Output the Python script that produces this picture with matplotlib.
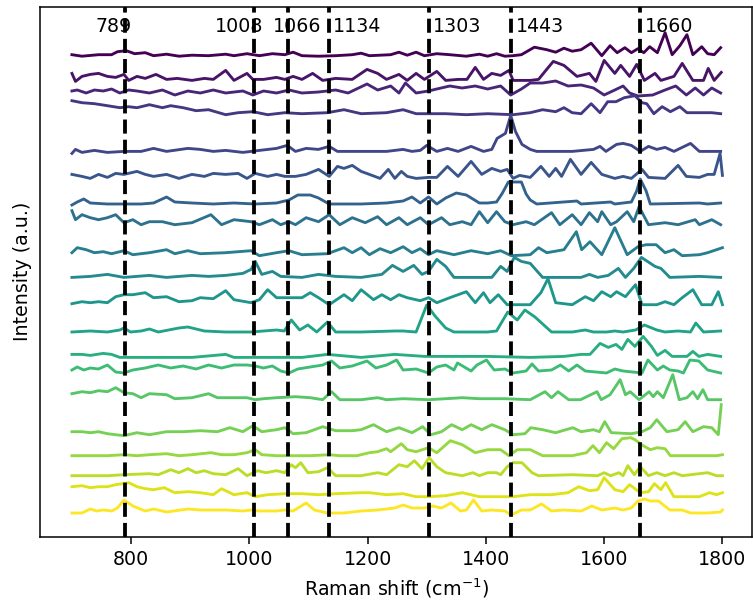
import numpy as np
import matplotlib
matplotlib.use("Agg")
import matplotlib.pyplot as plt

# marked Raman bands (cm^-1) and where their labels sit relative to the line
peak_positions = [789, 1008, 1066, 1134, 1303, 1443, 1660]
label_shift = [-18, -25, 15, 49, 48, 48, 50]

# vertical offset of each spectrum (top to bottom)
offsets = [481, 456.3, 443.7, 423, 385.3, 359.3, 332.7, 312, 282, 259.3,
           232, 204.7, 180.3, 163.7, 137, 102, 81, 61, 42, 23.7]

# (Raman shift, intensity) points, one list per spectrum
spec_01 = [(700, 1), (717, -0.5), (745, 1), (767, 1), (777, 4), (792, 5), (806, 2), (824, 3),
           (838, 0), (860, 1.5), (881, -0.5), (903, 0.5), (931, 0), (960, 1.5), (974, 0),
           (996, 2), (1017, 0), (1039, 2), (1060, 1), (1074, 3.5), (1089, 0), (1117, -0.5),
           (1146, 0), (1174, 1), (1189, 2.5), (1203, 0), (1239, 1), (1253, 3.5), (1267, 0.5),
           (1282, 3.5), (1296, 0), (1317, 2), (1339, 1), (1367, -0.5), (1389, 1.5), (1403, -0.5),
           (1418, 2), (1432, -0.5), (1446, 0), (1460, 1), (1482, 8.5), (1503, 6), (1518, 3.5),
           (1532, 7.5), (1546, 4.5), (1561, 6), (1578, 12.5), (1596, 0), (1610, 10), (1622, 3),
           (1635, 8), (1646, 3), (1657, 7), (1667, 3), (1677, 9), (1690, 3), (1703, 23),
           (1715, 1), (1728, 10), (1740, 21), (1750, 1), (1765, 9), (1775, 2), (1786, 1), (1797, 8)]
spec_02 = [(700, 7), (706, -1), (717, 4), (731, 6), (745, 7), (760, 4), (774, 3), (788, 6),
           (796, 0), (810, 4), (824, 2), (842, 6), (860, 1), (878, 2), (903, 0), (924, 2),
           (939, 1), (960, 10), (974, 0), (996, 7), (1006, 1), (1024, 1), (1046, 3), (1060, 1),
           (1074, 4), (1089, 1), (1107, 7), (1124, 0), (1146, 2), (1174, 1), (1199, 11),
           (1217, 7), (1232, 1), (1253, 6), (1267, 0), (1282, 7), (1296, 1), (1317, 9), (1332, 0),
           (1353, 1), (1368, 1), (1382, 13), (1396, 1), (1410, 7), (1425, 5), (1439, 10),
           (1446, 0), (1475, 0), (1489, 1), (1500, 9), (1514, 19), (1532, 15), (1554, 4),
           (1575, 7), (1586, -1), (1600, 20), (1618, 7), (1628, 15), (1643, 4), (1655, 16),
           (1668, 0), (1686, 7), (1696, 0), (1718, 4), (1732, 17), (1750, 0), (1768, 0),
           (1776, 12), (1786, 0), (1798, 8)]
spec_03 = [(700, 2), (709, 3), (724, 0), (738, 3), (753, 2), (767, 4), (781, 0), (796, 3),
           (810, 2), (831, 0), (853, 3), (874, -2), (896, 2), (917, 0), (939, 3), (960, 0),
           (989, 2), (1006, -2), (1024, 2), (1046, 0), (1067, 3), (1089, 0), (1117, 1),
           (1146, 3), (1167, 0), (1199, 9), (1217, 3), (1239, 7), (1253, 0), (1264, 10),
           (1282, 0), (1303, 2), (1317, 4), (1339, 7), (1360, 5), (1382, 7), (1403, 4),
           (1425, 7), (1442, -2), (1460, 4), (1475, 10), (1496, 10), (1518, 12), (1539, 7),
           (1561, 8), (1582, 5), (1600, -2), (1618, 3), (1632, 7), (1643, 0), (1657, -3),
           (1682, -2), (1703, 3), (1721, 7), (1739, -2), (1754, 5), (1768, -2), (1782, 5), (1797, 0)]
spec_04 = [(700, 13), (717, 11), (738, 10), (760, 8), (781, 6), (796, 7), (810, 6), (831, 9),
           (853, 6), (867, 8), (888, 6), (910, 3), (931, 4), (960, -1), (981, 1), (1006, 2),
           (1031, -1), (1060, 1), (1089, 0), (1132, 1), (1160, 4), (1189, 0), (1232, 1),
           (1260, 4), (1282, 0), (1332, 0), (1367, -1), (1403, 0), (1446, -1), (1475, 1),
           (1496, 4), (1518, 2), (1532, 6), (1546, 1), (1561, 0), (1578, 10), (1593, 1),
           (1606, 12), (1620, 12), (1634, 16), (1652, 18), (1664, 11), (1672, 10), (1684, 0),
           (1698, 7), (1712, 2), (1728, 7), (1740, 1), (1761, 1), (1782, 1), (1797, 0)]
spec_05 = [(700, -2), (706, 2), (717, -1), (738, 1), (760, -1), (788, 0), (817, 0), (838, 3),
           (860, 0), (896, 3), (917, 2), (939, 0), (960, 1), (989, -1), (1017, 1), (1046, 3),
           (1064, 6), (1078, 0), (1096, 3), (1117, 2), (1135, 5), (1149, 0), (1189, 0),
           (1232, 0), (1260, 2), (1275, 0), (1289, 1), (1300, 6), (1317, 0), (1335, 3),
           (1353, 0), (1375, 5), (1396, 0), (1410, 2), (1419, 13), (1433, 18), (1442, 36),
           (1450, 20), (1461, 7), (1475, 2), (1486, 0), (1546, 0), (1582, 2), (1593, 5),
           (1603, 0), (1621, 7), (1632, 8), (1646, 6), (1661, 0), (1675, 5), (1689, 2),
           (1703, 4), (1718, 0), (1746, 8), (1761, 0), (1797, 0)]
spec_06 = [(700, 3), (717, 1), (731, -1), (745, 3), (760, 0), (774, 4), (788, 3), (810, 6),
           (824, 3), (838, 1), (860, 3), (881, -1), (903, 3), (924, 1), (939, 4), (960, 3),
           (981, 4), (996, -1), (1010, 4), (1031, 1), (1046, 3), (1060, 1), (1078, 1), (1096, 3),
           (1117, 8), (1135, 1), (1149, 11), (1160, 9), (1174, 12), (1189, 6), (1203, 3),
           (1221, -1), (1235, 8), (1246, -1), (1257, 6), (1267, 1), (1282, -1), (1303, 0),
           (1317, 0), (1335, 11), (1353, 1), (1375, 16), (1393, 3), (1410, 9), (1425, 6),
           (1436, 8), (1446, -1), (1457, 2), (1475, 0), (1493, 11), (1507, 1), (1518, 9),
           (1528, 1), (1543, 18), (1561, 3), (1578, 15), (1596, 3), (1618, -1), (1632, 1),
           (1646, -1), (1664, 8), (1675, 0), (1703, -1), (1725, 12), (1739, 1), (1761, 0),
           (1775, 3), (1786, 3), (1796, 24), (1800, 2)]
spec_07 = [(700, -1), (709, 2), (720, 5), (731, 1), (760, 0), (817, 0), (838, 1), (860, 7),
           (874, 2), (903, 1), (939, 0), (974, 1), (1010, 0), (1046, 1), (1067, 4), (1082, 9),
           (1103, 9), (1117, 6), (1135, 0), (1189, 0), (1232, 1), (1260, 3), (1275, 7),
           (1289, 1), (1303, 7), (1317, 0), (1332, 6), (1350, 11), (1367, 9), (1389, 1),
           (1403, 1), (1418, 2), (1428, 11), (1438, 22), (1460, 22), (1468, 10), (1475, 4),
           (1486, 0), (1554, 3), (1561, 0), (1611, 2), (1618, 0), (1646, 2), (1655, 13),
           (1661, 25), (1671, 13), (1678, 0), (1761, 1), (1775, 0), (1797, 1)]
spec_08 = [(700, 14), (706, 5), (717, 10), (731, 7), (745, 5), (760, 7), (774, 10), (788, 2),
           (803, 5), (817, 0), (831, 3), (853, 3), (874, 0), (903, 2), (935, 10), (953, 0),
           (974, 5), (1003, 3), (1017, 0), (1039, 5), (1053, 0), (1067, 3), (1078, 0), (1096, 7),
           (1117, 3), (1135, 10), (1153, 0), (1174, 7), (1196, 2), (1217, 8), (1232, 0),
           (1253, 7), (1267, 0), (1289, 7), (1303, 0), (1325, 7), (1339, 0), (1360, 3),
           (1375, 0), (1389, 13), (1403, 2), (1418, 13), (1432, 3), (1446, 0), (1468, 3),
           (1482, 0), (1511, 12), (1525, 0), (1546, 10), (1561, 0), (1575, 12), (1589, 3),
           (1596, 13), (1611, 0), (1621, 3), (1639, 13), (1650, 3), (1659, 18), (1675, 0),
           (1703, 2), (1725, 0), (1754, 5), (1761, 0), (1782, 5), (1797, 0)]
spec_09 = [(700, 2), (709, 7), (724, 5), (738, 2), (753, 3), (767, 1), (788, 4), (803, 0),
           (831, 2), (860, 5), (874, 1), (896, 4), (917, 1), (960, 2), (1003, 4), (1017, -1),
           (1046, 2), (1067, 4), (1089, 0), (1132, 1), (1160, 7), (1174, 2), (1189, 7),
           (1203, 0), (1221, 6), (1239, 2), (1260, 8), (1275, 2), (1289, 6), (1303, 0),
           (1317, 4), (1346, 0), (1375, 4), (1403, 1), (1425, 4), (1443, -1), (1475, 0),
           (1489, 7), (1503, 2), (1532, 5), (1553, 23), (1562, 5), (1576, 13), (1596, 0),
           (1618, 27), (1639, 0), (1657, 8), (1671, 10), (1688, 10), (1703, 2), (1718, 5),
           (1732, -1), (1761, 0), (1775, 2), (1790, 5), (1800, 7)]
spec_10 = [(700, 0), (731, 1), (760, 3), (788, 0), (831, 2), (860, 0), (903, 2), (931, 1),
           (960, 2), (989, 4), (1003, 8), (1010, 16), (1021, 3), (1039, 6), (1053, 1), (1089, 0),
           (1117, 3), (1146, 1), (1189, 0), (1224, 3), (1242, 12), (1260, 6), (1278, 12),
           (1292, 3), (1303, 6), (1317, 18), (1332, 11), (1346, 0), (1410, 0), (1425, 11),
           (1436, 6), (1448, 20), (1460, 16), (1475, 14), (1496, 0), (1561, 0), (1575, 3),
           (1589, 0), (1607, 2), (1624, 9), (1636, 0), (1650, 9), (1663, 20), (1686, 11),
           (1696, 9), (1711, 0), (1761, 1), (1797, 0)]
spec_11 = [(700, 1), (717, 3), (731, 2), (745, 3), (760, 2), (774, 8), (788, 10), (803, 10),
           (824, 12), (838, 7), (860, 8), (881, 3), (903, 4), (917, 7), (939, 6), (960, 14),
           (974, 5), (1003, 2), (1017, 5), (1031, 15), (1046, 7), (1067, 7), (1089, 7),
           (1103, 12), (1117, 7), (1135, 0), (1160, 10), (1174, 4), (1189, 15), (1210, 5),
           (1224, 10), (1239, 5), (1253, 10), (1267, 7), (1289, 4), (1303, 7), (1317, 2),
           (1339, 7), (1367, 13), (1382, 2), (1396, 12), (1407, 2), (1421, 10), (1436, 0),
           (1475, 0), (1493, 12), (1505, 26), (1518, 2), (1546, 0), (1568, 8), (1582, 4),
           (1596, 13), (1611, 8), (1621, 13), (1636, 8), (1653, 20), (1664, 0), (1689, 0),
           (1703, 3), (1718, 0), (1732, 7), (1750, 15), (1765, 0), (1782, 0), (1793, 13), (1800, 0)]
spec_12 = [(700, 0), (731, 1), (760, 0), (781, 2), (788, 4), (799, 0), (817, 1), (831, 3),
           (846, 0), (881, 4), (896, 5), (924, 1), (960, 0), (1003, 0), (1024, 1), (1046, 2),
           (1059, 1), (1071, 12), (1085, 2), (1099, 7), (1114, 0), (1132, 10), (1146, 0),
           (1189, 0), (1246, 1), (1260, 1), (1282, 0), (1300, 27), (1314, 16), (1332, 4),
           (1346, 0), (1403, 0), (1418, 1), (1437, 20), (1453, 12), (1466, 22), (1483, 15),
           (1511, 0), (1546, 0), (1568, 2), (1582, 0), (1604, 0), (1618, 1), (1632, 0),
           (1653, 2), (1668, 7), (1689, 2), (1703, 0), (1725, 1), (1746, 0), (1755, 9),
           (1768, 0), (1797, 1)]
spec_13 = [(700, 2), (717, 2), (731, 1), (753, 3), (767, 2), (781, -1), (831, -1), (903, -1),
           (960, 2), (974, -1), (1046, -1), (1089, -1), (1132, 2), (1189, -1), (1246, 2),
           (1296, 0), (1403, 0), (1475, -1), (1532, 0), (1561, 2), (1576, 2), (1593, 13),
           (1607, 9), (1620, 12), (1630, 7), (1640, 17), (1652, 10), (1666, 20), (1680, 10),
           (1690, 1), (1703, 6), (1715, 0), (1740, 0), (1750, 5), (1760, 0), (1775, 2), (1797, 0)]
spec_14 = [(700, 3), (709, 6), (720, 3), (731, 5), (745, 4), (760, 8), (774, 1), (788, 0),
           (803, 3), (824, 5), (846, 8), (867, 5), (888, 7), (910, 4), (931, 8), (953, 5),
           (974, 8), (996, 8), (1010, 7), (1024, 5), (1039, 7), (1053, 2), (1067, 0), (1082, 4),
           (1103, 6), (1124, 8), (1139, 12), (1153, 5), (1174, 7), (1199, 12), (1214, 5),
           (1232, 8), (1249, 13), (1260, 3), (1282, 4), (1303, 0), (1317, 6), (1332, 8),
           (1346, 3), (1352, 10), (1375, 2), (1385, 8), (1401, 13), (1414, 3), (1432, 4),
           (1446, 0), (1468, 2), (1478, 9), (1489, 2), (1511, 3), (1526, 8), (1540, 2),
           (1554, 8), (1568, 2), (1604, 0), (1618, 4), (1632, 2), (1664, 0), (1674, 13),
           (1690, 3), (1700, 7), (1711, 3), (1725, 2), (1734, 0), (1745, 13), (1760, 12),
           (1775, 3), (1797, 0)]
spec_15 = [(700, 6), (717, 8), (731, 7), (745, 9), (760, 8), (774, 12), (788, 7), (803, 6),
           (817, 2), (831, 6), (860, 5), (874, 1), (903, 2), (931, 6), (946, 2), (974, 2),
           (996, 2), (1010, 0), (1024, 1), (1046, 2), (1078, 3), (1103, 2), (1124, 0), (1139, 8),
           (1153, 0), (1189, 0), (1217, 2), (1232, 0), (1260, 1), (1303, 0), (1332, 1),
           (1360, 2), (1389, 1), (1432, 1), (1475, 0), (1500, 8), (1511, 2), (1522, 8),
           (1540, 0), (1560, 0), (1588, 8), (1595, 0), (1610, 5), (1627, 20), (1636, 5),
           (1644, 8), (1659, 0), (1676, 8), (1683, 3), (1690, 8), (1700, 2), (1716, 25),
           (1727, 0), (1740, 2), (1750, 8), (1758, 1), (1767, 10), (1775, 0), (1797, 0)]
spec_16 = [(700, 3), (717, 3), (731, 2), (745, 3), (760, 1), (788, -1), (810, 2), (831, 0),
           (860, 3), (888, 3), (917, 4), (946, 3), (967, 7), (989, 3), (1006, 9), (1021, 3),
           (1046, 5), (1060, 7), (1074, 1), (1096, 2), (1124, 8), (1146, 4), (1174, 4),
           (1189, 5), (1210, 10), (1232, 3), (1253, 7), (1275, 2), (1293, 8), (1307, 0),
           (1325, 3), (1342, 10), (1360, 5), (1375, 10), (1393, 5), (1410, 10), (1432, 5),
           (1446, 0), (1466, 1), (1476, 7), (1496, 5), (1518, 2), (1547, 7), (1561, 3),
           (1582, 5), (1592, 3), (1601, 13), (1612, 2), (1646, 1), (1664, 3), (1678, 7),
           (1689, 15), (1706, 3), (1725, 5), (1737, 13), (1750, 3), (1768, 8), (1782, 7),
           (1793, 0), (1798, 30)]
spec_17 = [(700, 0), (760, 0), (788, 1), (810, 0), (831, 1), (860, 2), (881, 0), (903, 1),
           (935, 3), (953, 1), (974, 1), (996, 3), (1010, 6), (1021, 1), (1046, 0), (1074, 0),
           (1103, 0), (1135, 1), (1153, 0), (1182, 0), (1203, 3), (1217, 4), (1232, 7),
           (1239, 4), (1257, 12), (1267, 6), (1282, 4), (1303, 8), (1317, 3), (1340, 15),
           (1360, 11), (1382, 3), (1403, 6), (1425, 6), (1439, 0), (1453, 6), (1475, 6),
           (1496, 0), (1546, 0), (1570, 3), (1581, 10), (1592, 3), (1604, 13), (1616, 7),
           (1630, 17), (1645, 18), (1652, 16), (1666, 10), (1678, 6), (1690, 8), (1703, 7),
           (1712, 0), (1725, 0), (1761, 0), (1790, 0), (1800, 1)]
spec_18 = [(700, 0), (760, 0), (788, 1), (831, 2), (846, 1), (867, 6), (881, 3), (896, 7),
           (910, 3), (924, 5), (939, 2), (960, 1), (981, 7), (996, 0), (1014, 5), (1028, 3),
           (1046, 5), (1060, 3), (1071, 11), (1078, 8), (1087, 13), (1099, 3), (1117, 4),
           (1132, 8), (1146, 0), (1189, 0), (1217, 3), (1232, 1), (1253, 11), (1267, 9),
           (1279, 15), (1292, 7), (1304, 18), (1317, 9), (1332, 3), (1360, 0), (1378, 3),
           (1389, 0), (1403, 3), (1418, 3), (1425, 1), (1436, 9), (1446, 13), (1461, 13),
           (1478, 3), (1489, 0), (1546, 1), (1589, 0), (1600, 3), (1611, 0), (1625, 3),
           (1632, 0), (1640, 10), (1651, 1), (1661, 9), (1675, 0), (1689, 3), (1703, 0),
           (1718, 3), (1732, 0), (1775, 3), (1790, 0), (1800, 0)]
spec_19 = [(700, 8), (717, 9), (731, 7), (745, 8), (760, 8), (774, 10), (796, 12), (810, 8),
           (824, 6), (838, 5), (856, 7), (874, 2), (896, 3), (917, 2), (939, 0), (953, 6),
           (974, 0), (996, 2), (1010, -2), (1031, 0), (1060, 1), (1089, 1), (1117, 0), (1146, 1),
           (1189, 2), (1203, 2), (1232, 0), (1260, 1), (1282, -2), (1303, -2), (1332, -1),
           (1360, 2), (1389, -2), (1446, -2), (1475, 0), (1511, 0), (1539, 2), (1557, 8),
           (1575, 4), (1589, 5), (1600, 17), (1618, 5), (1632, 3), (1643, 10), (1661, 2),
           (1675, 3), (1685, 11), (1696, 5), (1704, 12), (1718, -2), (1761, -2), (1778, 2),
           (1790, 0), (1800, 2)]
spec_20 = [(700, 0), (717, 0), (731, 4), (742, 2), (753, 3), (767, 2), (777, 5), (788, 13),
           (803, 7), (824, 2), (838, 4), (860, 1), (896, 4), (917, 3), (960, 3), (989, 2),
           (1003, 3), (1017, 2), (1046, 2), (1060, 3), (1074, 2), (1096, 10), (1110, 3),
           (1132, 0), (1160, 0), (1189, 2), (1217, 3), (1246, 5), (1260, 8), (1275, 5),
           (1296, 5), (1310, 7), (1325, 5), (1341, 10), (1357, 2), (1367, 3), (1379, 13),
           (1393, 2), (1410, 3), (1432, 2), (1443, -2), (1460, 3), (1475, 3), (1494, 9),
           (1511, 2), (1532, 3), (1561, 2), (1579, 7), (1596, 3), (1618, 5), (1632, 3),
           (1646, 5), (1657, 12), (1668, 14), (1678, 12), (1692, 12), (1711, 3), (1732, 3),
           (1746, 0), (1775, 0), (1797, 1), (1800, 3)]

spectra = [spec_01, spec_02, spec_03, spec_04, spec_05, spec_06, spec_07, spec_08, spec_09,
           spec_10, spec_11, spec_12, spec_13, spec_14, spec_15, spec_16, spec_17, spec_18,
           spec_19, spec_20]

DPI = 137
fig = plt.figure(figsize=(753 / DPI, 606 / DPI), dpi=DPI)
ax = fig.add_axes([40 / 753, 69.3 / 606, 712 / 753, 530 / 606])

colors = plt.cm.viridis(np.linspace(0, 1, len(spectra)))
for spec, off, col in zip(spectra, offsets, colors):
    pts = np.array(spec, dtype=float)
    ax.plot(pts[:, 0], pts[:, 1] + off, color=col, lw=1.5)

for p, dx in zip(peak_positions, label_shift):
    ax.axvline(p, color="black", ls="--", lw=2)
    ax.text(p + dx, 0.962, str(p), transform=ax.get_xaxis_transform(),
            ha="center", va="center", fontsize=10)

ax.set_xlim(646, 1850)
ax.set_ylim(0, 530)
ax.set_yticks([])
ax.set_xlabel("Raman shift (cm$^{-1}$)")
ax.set_ylabel("Intensity (a.u.)")

fig.savefig("out.png", dpi=DPI)
